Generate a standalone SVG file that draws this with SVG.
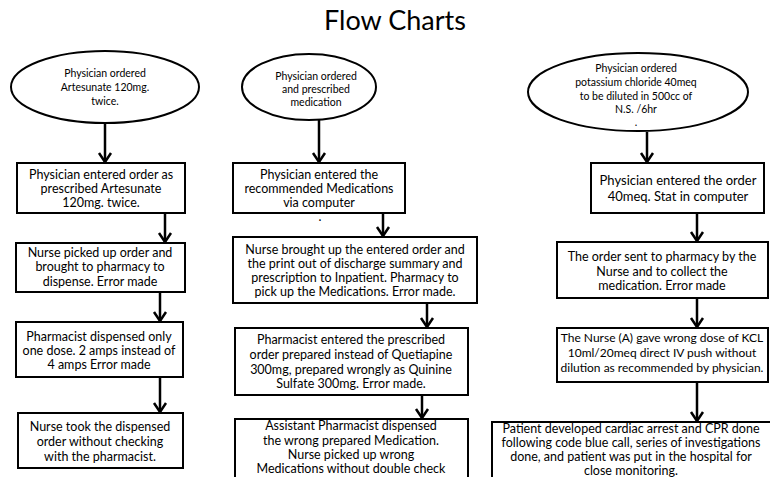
<svg xmlns="http://www.w3.org/2000/svg" width="770" height="477" viewBox="0 0 770 477">
<style>
.bg{fill:#ffffff}
.node{fill:#ffffff;stroke:#000000;stroke-width:2}
.t{font-family:Lato,"Liberation Sans",sans-serif;font-size:12.5px;fill:#000000;text-anchor:middle}
.s{font-family:Lato,"Liberation Sans",sans-serif;font-size:12px;fill:#000000;text-anchor:middle}
.e{font-family:Lato,"Liberation Sans",sans-serif;font-size:10.5px;fill:#000000;text-anchor:middle}
.t3{font-family:Lato,"Liberation Sans",sans-serif;font-size:13px;fill:#000000;text-anchor:middle}
.title{font-family:Lato,"Liberation Sans",sans-serif;font-size:27px;fill:#000000;text-anchor:middle}
.c{fill:none;stroke:#000000;stroke-width:2.5}
</style>
<defs>
<marker id="ah" markerUnits="userSpaceOnUse" markerWidth="20" markerHeight="20" viewBox="-12 -10 14 20" refX="0" refY="0" orient="auto" overflow="visible">
<path d="M-9,-6 L0,0 L-9,6" fill="none" stroke="#000000" stroke-width="2.5"/>
</marker>
</defs>
<rect class="bg" x="0" y="0" width="770" height="477"/>
<text class="title" x="395" y="30">Flow Charts</text>

<g id="connectors">
<line class="c" x1="105" y1="123" x2="105" y2="162" marker-end="url(#ah)"/>
<line class="c" x1="165" y1="213" x2="165" y2="242" marker-end="url(#ah)"/>
<line class="c" x1="160" y1="292" x2="160" y2="321" marker-end="url(#ah)"/>
<line class="c" x1="160" y1="377" x2="160" y2="412" marker-end="url(#ah)"/>
<line class="c" x1="319" y1="120" x2="319" y2="162" marker-end="url(#ah)"/>
<line class="c" x1="383" y1="213" x2="383" y2="236" marker-end="url(#ah)"/>
<line class="c" x1="427" y1="303" x2="427" y2="327" marker-end="url(#ah)"/>
<line class="c" x1="422" y1="395" x2="422" y2="418" marker-end="url(#ah)"/>
<line class="c" x1="647" y1="132" x2="647" y2="162" marker-end="url(#ah)"/>
<line class="c" x1="697" y1="213" x2="697" y2="241" marker-end="url(#ah)"/>
<line class="c" x1="697" y1="298" x2="697" y2="327" marker-end="url(#ah)"/>
<line class="c" x1="697" y1="382" x2="697" y2="421" marker-end="url(#ah)"/>
</g>

<g id="c1-start">
<ellipse class="node" cx="105" cy="87" rx="94" ry="36"/>
<text class="e" x="105" y="77">Physician ordered</text>
<text class="e" x="105" y="91">Artesunate 120mg.</text>
<text class="e" x="105" y="105">twice.</text>
</g>
<g id="c1-n1">
<rect class="node" x="17" y="163" width="168" height="50"/>
<text class="t" x="101" y="179">Physician entered order as</text>
<text class="t" x="101" y="193">prescribed Artesunate</text>
<text class="t" x="101" y="207">120mg. twice.</text>
</g>
<g id="c1-n2">
<rect class="node" x="16" y="243" width="169" height="49"/>
<text class="t" x="100" y="257">Nurse picked up order and</text>
<text class="t" x="100" y="271">brought to pharmacy to</text>
<text class="t" x="100" y="286">dispense. Error made</text>
</g>
<g id="c1-n3">
<rect class="node" x="16" y="322" width="167" height="55"/>
<text class="t" x="99" y="341">Pharmacist dispensed only</text>
<text class="t" x="99" y="355">one dose.  2 amps instead of</text>
<text class="t" x="99" y="369">4 amps Error made</text>
</g>
<g id="c1-n4">
<rect class="node" x="18" y="413" width="165" height="55"/>
<text class="t" x="100" y="431">Nurse took the dispensed</text>
<text class="t" x="100" y="446">order without checking</text>
<text class="t" x="100" y="461">with the pharmacist.</text>
</g>

<g id="c2-start">
<ellipse class="node" cx="309" cy="87" rx="67" ry="33"/>
<text class="e" x="316" y="80">Physician ordered</text>
<text class="e" x="316" y="93">and prescribed</text>
<text class="e" x="316" y="106">medication</text>
</g>
<g id="c2-n1">
<rect class="node" x="233" y="163" width="172" height="50"/>
<text class="t" x="319" y="179">Physician entered the</text>
<text class="t" x="319" y="193">recommended Medications</text>
<text class="t" x="319" y="207">via computer</text>
<text class="t" x="320" y="221">.</text>
</g>
<g id="c2-n2">
<rect class="node" x="233" y="237" width="244" height="66"/>
<text class="t" x="355" y="254">Nurse brought up the entered order and</text>
<text class="t" x="355" y="268">the print out of discharge summary and</text>
<text class="t" x="355" y="282">prescription to Inpatient. Pharmacy to</text>
<text class="t" x="355" y="296">pick up the Medications. Error made.</text>
</g>
<g id="c2-n3">
<rect class="node" x="235" y="328" width="233" height="67"/>
<text class="t" x="351" y="344">Pharmacist entered the prescribed</text>
<text class="t" x="351" y="359">order prepared  instead of Quetiapine</text>
<text class="t" x="351" y="374">300mg, prepared wrongly as Quinine</text>
<text class="t" x="351" y="388">Sulfate 300mg. Error made.</text>
</g>
<g id="c2-n4">
<rect class="node" x="235" y="419" width="233" height="70"/>
<text class="t" x="351" y="430">Assistant Pharmacist dispensed</text>
<text class="t" x="351" y="445">the wrong prepared Medication.</text>
<text class="t" x="351" y="459">Nurse picked up wrong</text>
<text class="t" x="351" y="473">Medications without double check</text>
</g>

<g id="c3-start">
<ellipse class="node" cx="638" cy="92" rx="110" ry="39"/>
<text class="e" x="636" y="72">Physician ordered</text>
<text class="e" x="636" y="86">potassium chloride 40meq</text>
<text class="e" x="636" y="100">to be diluted in 500cc of</text>
<text class="e" x="636" y="113">N.S. /6hr</text>
<text class="e" x="636" y="126">.</text>
</g>
<g id="c3-n1">
<rect class="node" x="591" y="163" width="173" height="50"/>
<text class="t3" x="678" y="185">Physician entered the order</text>
<text class="t3" x="678" y="201">40meq. Stat in computer</text>
</g>
<g id="c3-n2">
<rect class="node" x="557" y="242" width="211" height="56"/>
<text class="t" x="662" y="261">The order sent to pharmacy by the</text>
<text class="t" x="662" y="276">Nurse and to collect the</text>
<text class="t" x="662" y="290">medication. Error made</text>
</g>
<g id="c3-n3">
<rect class="node" x="557" y="328" width="211" height="54"/>
<text class="s" x="662" y="342">The Nurse (A) gave wrong dose of KCL</text>
<text class="s" x="662" y="357">10ml/20meq direct IV push without</text>
<text class="s" x="662" y="372">dilution as recommended by physician.</text>
</g>
<g id="c3-n4">
<rect class="node" x="492" y="422" width="290" height="70"/>
<text class="t" x="631" y="433">Patient developed cardiac arrest and CPR done</text>
<text class="t" x="631" y="447">following code blue call, series of investigations</text>
<text class="t" x="631" y="461">done, and patient was put in the hospital for</text>
<text class="t" x="631" y="475">close monitoring.</text>
</g>
</svg>
